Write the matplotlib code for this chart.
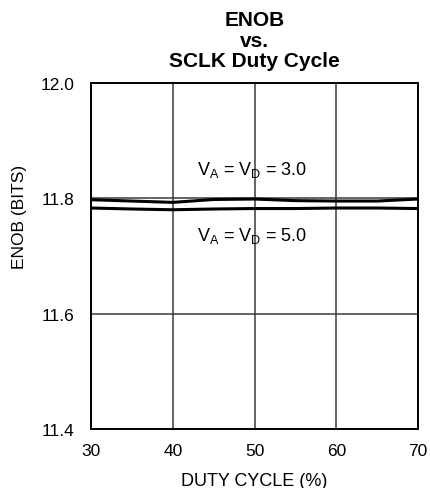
import matplotlib
matplotlib.use("Agg")
import matplotlib.pyplot as plt

plt.rcParams['font.family'] = ['Liberation Sans', 'DejaVu Sans']
plt.rcParams['mathtext.fontset'] = 'custom'
plt.rcParams['mathtext.rm'] = 'Liberation Sans'
plt.rcParams['mathtext.it'] = 'Liberation Sans:italic'
plt.rcParams['mathtext.bf'] = 'Liberation Sans:bold'

duty_cycle = [30, 35, 40, 45, 50, 55, 60, 65, 70]
enob_3v0 = [11.7976, 11.7953, 11.7930, 11.7980, 11.7988, 11.7960, 11.7953, 11.7953, 11.7988]
enob_5v0 = [11.7832, 11.7815, 11.7802, 11.7815, 11.7823, 11.7823, 11.7832, 11.7832, 11.7823]

x_ticks = [30, 40, 50, 60, 70]
y_ticks = [11.4, 11.6, 11.8, 12.0]
y_tick_labels = ['11.4', '11.6', '11.8', '12.0']

fig = plt.figure(figsize=(4.30, 4.89), dpi=100)
ax = fig.add_axes([91/430, 59/489, 327/430, 346/489])

ax.plot(duty_cycle, enob_3v0, color='black', lw=2.2, solid_capstyle='butt')
ax.plot(duty_cycle, enob_5v0, color='black', lw=2.2, solid_capstyle='butt')

ax.set_xlim(30, 70)
ax.set_ylim(11.4, 12.0)
ax.set_xticks(x_ticks)
ax.set_yticks(y_ticks)
ax.set_yticklabels(y_tick_labels)
ax.tick_params(axis='both', length=0, labelsize=12.5, colors='black')
ax.tick_params(axis='x', pad=10)
ax.tick_params(axis='y', pad=12)
ax.grid(True, color='#3a3a3a', lw=1.1)
ax.set_axisbelow(True)
for s in ax.spines.values():
    s.set_linewidth(1.4)
    s.set_color('black')

ax.set_xlabel('DUTY CYCLE (%)', fontsize=13, labelpad=10)
ax.set_ylabel('ENOB (BITS)', fontsize=12.5)
ax.yaxis.set_label_coords(-0.196, 0.616)
ax.set_title('ENOB\nvs.\nSCLK Duty Cycle', fontsize=15, fontweight='bold',
             linespacing=1.1, pad=12)

ax.text(49.7, 11.842, r'V$_\mathregular{A}$ = V$_\mathregular{D}$ = 3.0', fontsize=13,
        ha='center', va='baseline')
ax.text(49.7, 11.728, r'V$_\mathregular{A}$ = V$_\mathregular{D}$ = 5.0', fontsize=13,
        ha='center', va='baseline')

fig.savefig('out.png', dpi=100)
